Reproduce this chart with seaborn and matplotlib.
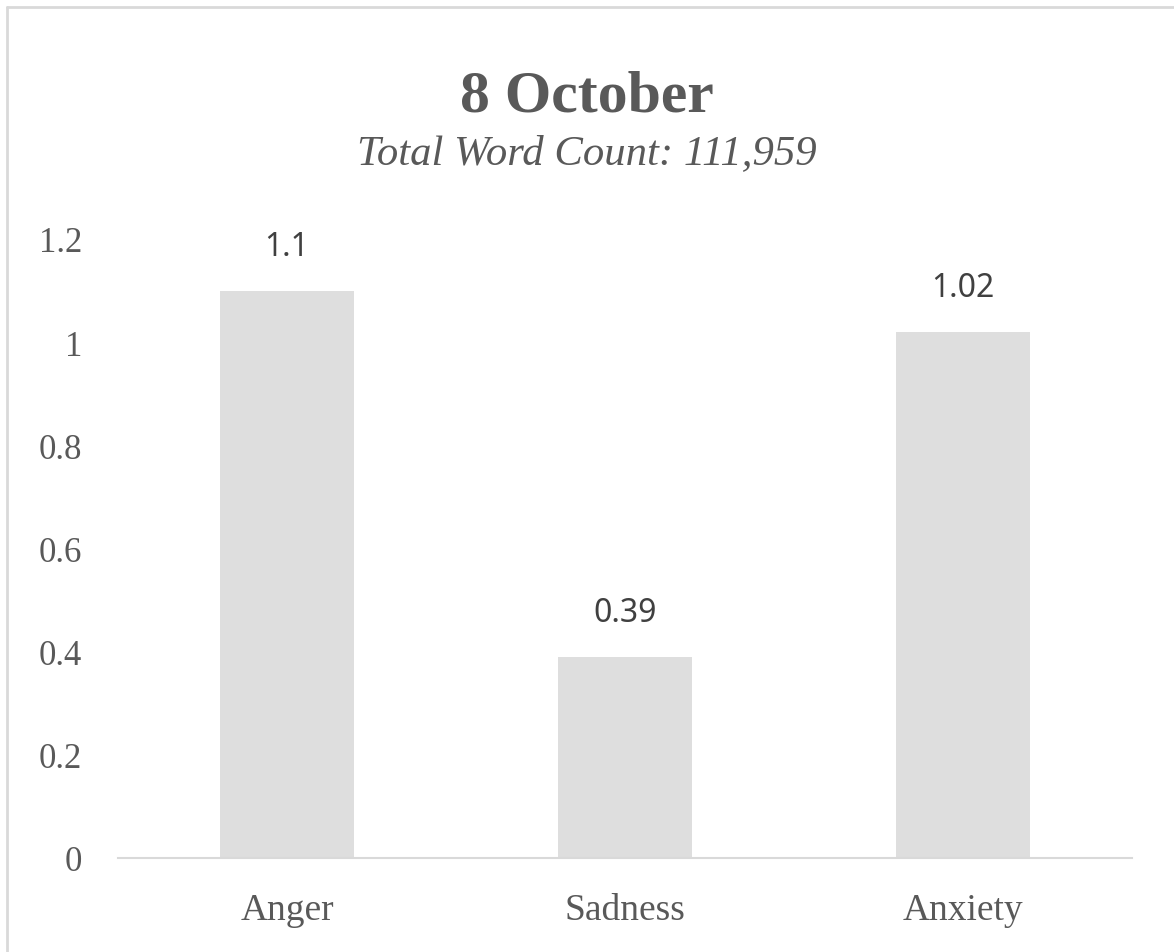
import matplotlib
matplotlib.use("Agg")
import matplotlib.pyplot as plt
import seaborn as sns
import pandas as pd
from matplotlib.lines import Line2D

categories = ["Anger", "Sadness", "Anxiety"]
values = [1.1, 0.39, 1.02]
value_labels = ["1.1", "0.39", "1.02"]
yticks = [0, 0.2, 0.4, 0.6, 0.8, 1.0, 1.2]
ytick_labels = ["0", "0.2", "0.4", "0.6", "0.8", "1", "1.2"]
title = "8 October"
subtitle = "Total Word Count: 111,959"

sns.set_theme(style="white")
plt.rcParams["font.family"] = ["Liberation Serif", "DejaVu Serif"]

df = pd.DataFrame({"category": categories, "value": values})

fig = plt.figure(figsize=(11.74, 9.53), dpi=100)
ax = fig.add_axes([118 / 1174, 94 / 953, (1132 - 118) / 1174, (859 - 240) / 953])

sns.barplot(data=df, x="category", y="value", color="#dedede", width=0.395,
            saturation=1, ax=ax, edgecolor="none")

ax.set_xlim(-0.5, 2.5)
ax.set_ylim(0, 1.2)
ax.set_yticks(yticks)
ax.set_yticklabels(ytick_labels)
ax.set_xlabel("")
ax.set_ylabel("")
ax.tick_params(axis="y", length=0, pad=26, labelsize=25, labelcolor="#595959")
ax.tick_params(axis="x", length=0, pad=25, labelsize=27, labelcolor="#595959")
for s in ["top", "right", "left"]:
    ax.spines[s].set_visible(False)
ax.spines["bottom"].set_color("#d9d9d9")
ax.spines["bottom"].set_linewidth(1.5)
ax.grid(False)

for i, (v, lab) in enumerate(zip(values, value_labels)):
    ax.annotate(lab, xy=(i, v), xytext=(0, 20), textcoords="offset points",
                ha="center", va="bottom", fontsize=23, color="#404040",
                family=["Noto Sans", "DejaVu Sans"], annotation_clip=False)

fig.text(0.5, 1 - 98 / 953, title, ha="center", va="center", fontsize=43,
         fontweight="bold", color="#595959")
fig.text(0.5, 1 - 154 / 953, subtitle, ha="center", va="center", fontsize=30.8,
         fontstyle="italic", color="#595959")

# outer chart frame (top and left edges visible)
fig.add_artist(Line2D([7 / 1174, 1.0], [1 - 8 / 953, 1 - 8 / 953],
                      transform=fig.transFigure, color="#d9d9d9", lw=2))
fig.add_artist(Line2D([7 / 1174, 7 / 1174], [0, 1 - 8 / 953],
                      transform=fig.transFigure, color="#d9d9d9", lw=2))

fig.savefig("out.png", dpi=100)
